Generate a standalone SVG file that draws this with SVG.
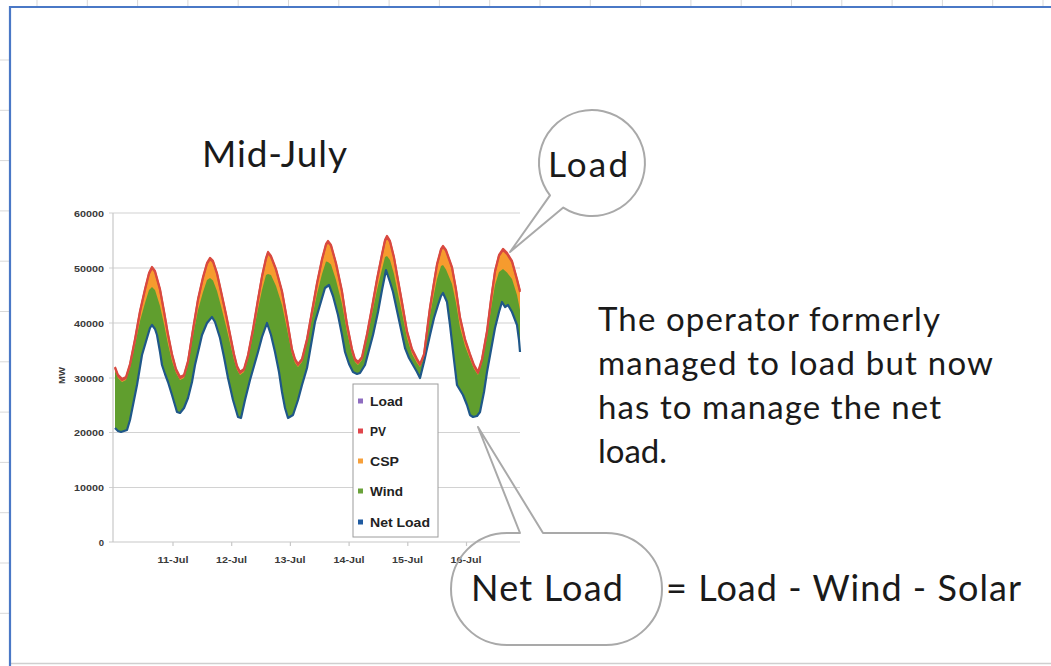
<svg xmlns="http://www.w3.org/2000/svg" width="1051" height="666" viewBox="0 0 1051 666">
  <defs>
    <style>
      .sheet{stroke:#d9d9d9;stroke-width:1}
      .grid{stroke:#d2d2d2;stroke-width:1.2;fill:none}
      .ax{font-family:"Liberation Sans",Arial,sans-serif;font-weight:bold;font-size:9.5px;fill:#3a3a3a}
      .lg{font-family:"Liberation Sans",Arial,sans-serif;font-weight:bold;font-size:12.5px;fill:#222}
      .big{font-family:Lato,"Open Sans",sans-serif;fill:#1a1a1a}
      .call{fill:none;stroke:#a9a9a9;stroke-width:2;stroke-linejoin:round}
    </style>
    <!-- hides everything below the net-load curve so the gridlines show there -->
    <mask id="aboveNet" maskUnits="userSpaceOnUse" x="0" y="0" width="1051" height="666">
      <rect x="0" y="0" width="1051" height="666" fill="#fff"/>
      <path fill="#000" d="M115,548 L115,428 118,431 121,432 127,430 130,420 133,405 137,385 142,355 147,338 150,328 152,325 155,329 157,335 160,352 162,365 165,374 168,382 172,395 177,412 180,413 184,408 188,398 192,382 195,365 199,348 202,335 207,323 212,317 215,322 220,338 224,357 228,378 233,400 238,417 241,418 245,400 250,380 254,366 258,352 262,337 267,323 271,335 275,352 279,372 282,392 285,408 288,418 293,415 298,400 302,385 307,368 311,345 315,322 320,305 325,288 329,285 333,296 338,315 342,335 345,352 349,364 353,372 357,374 360,373 365,365 369,350 373,335 378,312 382,290 386,270 390,282 393,292 399,320 405,348 409,358 413,365 417,372 420,378 424,362 430,335 434,318 438,305 441,296 443,293 447,302 450,325 454,360 457,385 460,390 463,395 467,405 470,415 473,417 477,416 480,412 484,392 487,372 491,350 495,328 499,312 502,302 505,307 508,305 512,312 517,325 519,340 520,352 L520,548 Z"/>
    </mask>
  </defs>

  <rect x="0" y="0" width="1051" height="666" fill="#fff"/>

  <!-- spreadsheet cells around the slide -->
  <g id="sheet">
    <path class="sheet" d="M37,0V6 M87.3,0V6 M137.6,0V6 M187.9,0V6 M238.2,0V6 M288.5,0V6 M338.8,0V6 M389.1,0V6 M439.4,0V6 M489.7,0V6 M540,0V6 M590.3,0V6 M640.6,0V6 M690.9,0V6 M741.2,0V6 M791.5,0V6 M841.8,0V6 M892.1,0V6 M942.4,0V6 M992.7,0V6 M1043,0V6"/>
    <path class="sheet" d="M0,60H9 M0,110.3H9 M0,160.6H9 M0,210.9H9 M0,261.2H9 M0,311.5H9 M0,361.8H9 M0,412.1H9 M0,462.4H9 M0,512.7H9 M0,563H9 M0,613.3H9"/>
    <path d="M11,663.5H1051" stroke="#cfcfcf" stroke-width="1.5"/>
    <path d="M10,666V7H1051" fill="none" stroke="#4a78c6" stroke-width="2.2"/>
  </g>

  <!-- chart: axes and gridlines -->
  <g id="chart-axes">
    <path class="grid" d="M109,213H520 M109,268H520 M109,323H520 M109,378H520 M109,432.5H520 M109,487.5H520"/>
    <path d="M109,542H520 M113,213V542" stroke="#c8c8c8" stroke-width="1.2" fill="none"/>
    <path d="M173,542V546 M231.7,542V546 M290.4,542V546 M349.1,542V546 M407.8,542V546 M466.5,542V546" stroke="#c8c8c8" stroke-width="1.2"/>
    <text class="ax" x="104" y="216.5" text-anchor="end" textLength="30" lengthAdjust="spacingAndGlyphs">60000</text>
    <text class="ax" x="104" y="271.5" text-anchor="end" textLength="30" lengthAdjust="spacingAndGlyphs">50000</text>
    <text class="ax" x="104" y="326.5" text-anchor="end" textLength="30" lengthAdjust="spacingAndGlyphs">40000</text>
    <text class="ax" x="104" y="381.5" text-anchor="end" textLength="30" lengthAdjust="spacingAndGlyphs">30000</text>
    <text class="ax" x="104" y="436" text-anchor="end" textLength="30" lengthAdjust="spacingAndGlyphs">20000</text>
    <text class="ax" x="104" y="491" text-anchor="end" textLength="30" lengthAdjust="spacingAndGlyphs">10000</text>
    <text class="ax" x="104" y="545.5" text-anchor="end">0</text>
    <text class="ax" transform="translate(65,375.5) rotate(-90)" text-anchor="middle">MW</text>
    <text class="ax" x="173" y="563" text-anchor="middle" textLength="31" lengthAdjust="spacingAndGlyphs">11-Jul</text>
    <text class="ax" x="231.5" y="563" text-anchor="middle" textLength="31" lengthAdjust="spacingAndGlyphs">12-Jul</text>
    <text class="ax" x="290" y="563" text-anchor="middle" textLength="31" lengthAdjust="spacingAndGlyphs">13-Jul</text>
    <text class="ax" x="349" y="563" text-anchor="middle" textLength="31" lengthAdjust="spacingAndGlyphs">14-Jul</text>
    <text class="ax" x="407.5" y="563" text-anchor="middle" textLength="31" lengthAdjust="spacingAndGlyphs">15-Jul</text>
    <text class="ax" x="466" y="563" text-anchor="middle" textLength="31" lengthAdjust="spacingAndGlyphs">16-Jul</text>
  </g>

  <!-- chart: stacked supply bands between net load and load -->
  <g id="chart-series">
    <g mask="url(#aboveNet)">
      <path id="csp-band" fill="#f69b2e" d="M115,548 L115,368 118,376 122,380 126,378 130,365 135,340 140,312 145,290 149,274 152,268 155,272 160,290 164,312 168,335 172,355 176,370 180,378 184,376 188,362 193,330 198,300 203,278 207,264 210,259 213,262 217,274 221,292 226,315 230,335 234,355 237,367 240,373 244,370 248,356 253,330 258,300 262,277 266,259 268,253 271,257 276,270 282,292 287,320 292,350 295,360 298,365 302,360 307,340 312,312 317,284 322,260 326,245 328,242 331,246 336,264 342,292 347,325 352,350 355,360 358,363 362,358 367,335 372,308 377,280 382,255 385,241 387,237 390,242 394,258 397,275 402,303 407,332 412,350 417,360 420,365 424,355 430,308 434,283 437,265 441,250 443,247 446,251 452,268 456,290 460,318 465,340 470,355 474,366 478,373 482,360 487,332 491,300 495,272 499,256 503,250 507,254 512,262 517,280 520,292 L520,548 Z"/>
      <path id="wind-band" fill="#609e2e" d="M115,548 L115,371 118,378 122,382 126,380 130,368 135,345 140,321 145,303 149,290 152,287 155,290 160,306 164,324 168,344 172,361 176,373 180,380 184,378 188,365 193,336 198,310 203,292 207,280 210,278 213,280.5 217,291 221,306 226,326 230,343 234,360 237,370 240,375 244,372 248,359 253,335 258,309 262,290 266,275 268,274 271,275 276,286 282,305 287,329 292,354 295,363 298,367 302,362 307,343 312,318 317,294 322,274 326,261.5 328,262 331,264.5 336,280 342,304 347,332 352,354 355,362 358,365 362,360 367,338.5 372,314 377,290 382,269 385,257 387,256 390,260 394,274 397,289 402,313 407,338 412,354 417,363 420,367 424,357 430,315 434,294 437,279 441,266 443,265 446,269.5 452,284 456,303 460,327.5 465,346 470,359 474,369 478,375 482,362.5 487,337 491,309 495,285 499,272 503,269 507,272.5 512,279 517,295 520,310 L520,548 Z"/>
    </g>
    <polyline id="net-load" fill="none" stroke="#1f5789" stroke-width="2.2" stroke-linejoin="round" points="115,428 118,431 121,432 127,430 130,420 133,405 137,385 142,355 147,338 150,328 152,325 155,329 157,335 160,352 162,365 165,374 168,382 172,395 177,412 180,413 184,408 188,398 192,382 195,365 199,348 202,335 207,323 212,317 215,322 220,338 224,357 228,378 233,400 238,417 241,418 245,400 250,380 254,366 258,352 262,337 267,323 271,335 275,352 279,372 282,392 285,408 288,418 293,415 298,400 302,385 307,368 311,345 315,322 320,305 325,288 329,285 333,296 338,315 342,335 345,352 349,364 353,372 357,374 360,373 365,365 369,350 373,335 378,312 382,290 386,270 390,282 393,292 399,320 405,348 409,358 413,365 417,372 420,378 424,362 430,335 434,318 438,305 441,296 443,293 447,302 450,325 454,360 457,385 460,390 463,395 467,405 470,415 473,417 477,416 480,412 484,392 487,372 491,350 495,328 499,312 502,302 505,307 508,305 512,312 517,325 519,340 520,352"/>
    <polyline id="load-pv" fill="none" stroke="#d9493f" stroke-width="2" stroke-linejoin="round" points="115,368 118,376 122,380 126,378 130,365 135,340 140,312 145,290 149,274 152,268 155,272 160,290 164,312 168,335 172,355 176,370 180,378 184,376 188,362 193,330 198,300 203,278 207,264 210,259 213,262 217,274 221,292 226,315 230,335 234,355 237,367 240,373 244,370 248,356 253,330 258,300 262,277 266,259 268,253 271,257 276,270 282,292 287,320 292,350 295,360 298,365 302,360 307,340 312,312 317,284 322,260 326,245 328,242 331,246 336,264 342,292 347,325 352,350 355,360 358,363 362,358 367,335 372,308 377,280 382,255 385,241 387,237 390,242 394,258 397,275 402,303 407,332 412,350 417,360 420,365 424,355 430,308 434,283 437,265 441,250 443,247 446,251 452,268 456,290 460,318 465,340 470,355 474,366 478,373 482,360 487,332 491,300 495,272 499,256 503,250 507,254 512,262 517,280 520,292"/>
    <use href="#load-pv" transform="translate(0,-1.2)" style="stroke:#8f6db6;stroke-width:1.2"/>
  </g>

  <!-- chart legend -->
  <g id="legend">
    <rect x="353" y="384" width="85" height="153" fill="#fff" stroke="#9c9c9c" stroke-width="1"/>
    <rect x="358" y="398.5" width="5" height="5" fill="#8e6cc0"/>
    <rect x="358" y="428.5" width="5" height="5" fill="#e0464c"/>
    <rect x="358" y="458.5" width="5" height="5" fill="#f7a03a"/>
    <rect x="358" y="488.5" width="5" height="5" fill="#6aa23a"/>
    <rect x="358" y="519.5" width="5" height="5" fill="#1f5aa0"/>
    <text class="lg" x="370" y="406" textLength="33" lengthAdjust="spacingAndGlyphs">Load</text>
    <text class="lg" x="370" y="436" textLength="16" lengthAdjust="spacingAndGlyphs">PV</text>
    <text class="lg" x="370" y="466" textLength="29" lengthAdjust="spacingAndGlyphs">CSP</text>
    <text class="lg" x="370" y="496" textLength="33" lengthAdjust="spacingAndGlyphs">Wind</text>
    <text class="lg" x="370" y="527" textLength="60" lengthAdjust="spacingAndGlyphs">Net Load</text>
  </g>

  <g id="title">
    <text class="big" x="202" y="167" font-size="37" textLength="145">Mid-July</text>
  </g>

  <g id="load-callout">
    <path class="call" d="M563.3,207.6 A53,53 0 1 0 550,195.4 L510,252 Z"/>
    <text class="big" x="548" y="177" font-size="35" textLength="80">Load</text>
  </g>

  <g id="net-load-callout">
    <path class="call" d="M543,533 H606 A56,56 0 0 1 606,645 H507 A56,56 0 0 1 507,533 H520 L478,427 Z"/>
    <text class="big" x="471" y="601" font-size="36" textLength="152">Net Load</text>
  </g>

  <g id="note">
    <text class="big" x="598" y="331" font-size="33" textLength="342">The operator formerly</text>
    <text class="big" x="598" y="375" font-size="33" textLength="395">managed to load but now</text>
    <text class="big" x="598" y="419" font-size="33" textLength="343">has to manage the net</text>
    <text class="big" x="598" y="463" font-size="33" textLength="69">load.</text>
  </g>

  <g id="formula">
    <text class="big" x="666" y="601" font-size="36" textLength="355">= Load - Wind - Solar</text>
  </g>
</svg>
